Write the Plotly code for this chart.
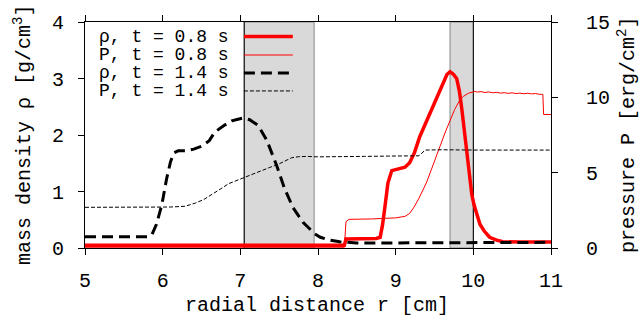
import plotly.graph_objects as go

# ---- data ----
rho08_x = [5.0, 8.34, 8.36, 8.55, 8.75, 8.80, 8.83, 8.86, 8.90, 8.95, 9.03, 9.12, 9.18, 9.24, 9.31, 9.40,
           9.485, 9.55, 9.61, 9.66, 9.70, 9.74, 9.785, 9.82, 9.85, 9.875, 9.90, 9.93, 9.957, 9.98, 10.008,
           10.045, 10.085, 10.14, 10.21, 10.30, 10.38, 10.6, 11.0]
rho08_y = [0.05, 0.05, 0.16, 0.17, 0.17, 0.19, 0.40, 0.71, 1.15, 1.37, 1.40, 1.43, 1.51, 1.68, 1.97, 2.25,
           2.54, 2.74, 2.94, 3.07, 3.12, 3.08, 3.00, 2.78, 2.48, 2.18, 1.85, 1.50, 1.17, 0.95, 0.77,
           0.58, 0.42, 0.30, 0.19, 0.14, 0.11, 0.105, 0.105]

p08_x = [5.0, 8.34, 8.36, 8.40, 8.70, 9.00, 9.12, 9.18, 9.23, 9.30, 9.40, 9.50, 9.57, 9.64, 9.70, 9.76,
         9.83, 9.87, 9.94, 9.98, 10.02, 10.05, 10.10, 10.15, 10.20, 10.25, 10.30, 10.35, 10.40, 10.45,
         10.50, 10.55, 10.60, 10.65, 10.70, 10.75, 10.80, 10.85, 10.895, 10.905, 11.0]
p08_y = [0.05, 0.05, 1.75, 1.90, 1.93, 2.00, 2.10, 2.30, 2.66, 3.30, 4.38, 5.70, 6.74, 7.70, 8.45, 9.20,
         9.85, 10.06, 10.28, 10.36, 10.39, 10.35, 10.38, 10.32, 10.36, 10.30, 10.33, 10.28, 10.31, 10.26,
         10.30, 10.25, 10.28, 10.24, 10.27, 10.23, 10.25, 10.20, 10.20, 8.86, 8.86]

rho14_x = [5.0, 5.80, 5.86, 5.92, 5.99, 6.05, 6.10, 6.14, 6.20, 6.29, 6.40, 6.50, 6.60, 6.67, 6.78, 6.89,
           6.97, 7.04, 7.12, 7.23, 7.34, 7.47, 7.57, 7.68, 7.81, 7.96, 8.03, 8.15, 8.28, 8.5, 9.0, 9.5,
           10.0, 10.5, 11.0]
rho14_y = [0.20, 0.20, 0.23, 0.42, 0.77, 1.22, 1.52, 1.68, 1.72, 1.72, 1.75, 1.80, 1.90, 2.05, 2.16, 2.25,
           2.28, 2.30, 2.27, 2.17, 1.91, 1.45, 1.05, 0.71, 0.45, 0.25, 0.19, 0.14, 0.11, 0.09, 0.09, 0.09,
           0.095, 0.10, 0.10]

p14_x = [5.0, 5.86, 6.10, 6.29, 6.42, 6.53, 6.63, 6.74, 6.85, 6.95, 7.06, 7.17, 7.27, 7.38, 7.49, 7.58,
         7.66, 7.75, 7.85, 8.0, 8.3, 8.6, 8.9, 9.30, 9.38, 9.6, 10.0, 10.5, 11.0]
p14_y = [2.70, 2.70, 2.72, 2.77, 2.98, 3.22, 3.52, 3.90, 4.27, 4.48, 4.70, 4.92, 5.13, 5.35, 5.56, 5.80,
         5.99, 6.06, 6.08, 6.05, 6.05, 6.08, 6.10, 6.12, 6.50, 6.52, 6.50, 6.50, 6.50]

bands = [(7.05, 7.95), (9.70, 10.00)]
shock_lines = [7.05, 10.00]

x_ticks = [5, 6, 7, 8, 9, 10, 11]
rho_ticks = [0, 1, 2, 3, 4]
p_ticks = [0, 5, 10, 15]

legend_labels = ["ρ, t = 0.8 s", "P, t = 0.8 s", "ρ, t = 1.4 s", "P, t = 1.4 s"]

FONT = "Liberation Mono"
FS = 20
FS_LEG = 18

styles = [
    dict(color="#ff0000", width=3.5, dash="solid"),
    dict(color="#ff0000", width=1, dash="solid"),
    dict(color="#000000", width=3, dash="11px,6px"),
    dict(color="#000000", width=1, dash="4px,2px"),
]

fig = go.Figure()
fig.add_trace(go.Scatter(x=rho08_x, y=rho08_y, mode="lines", line=styles[0], yaxis="y"))
fig.add_trace(go.Scatter(x=p08_x, y=p08_y, mode="lines", line=styles[1], yaxis="y2"))
fig.add_trace(go.Scatter(x=rho14_x, y=rho14_y, mode="lines", line=styles[2], yaxis="y"))
fig.add_trace(go.Scatter(x=p14_x, y=p14_y, mode="lines", line=styles[3], yaxis="y2"))

shapes = []
for a, b in bands:
    shapes.append(dict(type="rect", xref="x", yref="paper", x0=a, x1=b, y0=0, y1=1,
                       fillcolor="#d9d9d9", line=dict(color="#888888", width=1), layer="below"))
for v in shock_lines:
    shapes.append(dict(type="line", xref="x", yref="paper", x0=v, x1=v, y0=0, y1=1,
                       line=dict(color="black", width=1), layer="below"))

# legend (text left, sample on the right, as in gnuplot)
leg_y = [0.9356, 0.854, 0.774, 0.695]
annotations = []
for lab, yy, st in zip(legend_labels, leg_y, styles):
    annotations.append(dict(text=lab, xref="paper", yref="paper", x=0.025, y=yy,
                            xanchor="left", yanchor="middle", showarrow=False,
                            font=dict(family=FONT, size=FS_LEG, color="black")))
    shapes.append(dict(type="line", xref="paper", yref="paper", x0=0.341, x1=0.446, y0=yy, y1=yy,
                       line=dict(color=st["color"], width=st["width"], dash=st["dash"])))

annotations.append(dict(text="radial distance r [cm]", xref="paper", yref="paper", x=0.497, y=-0.255,
                        xanchor="center", yanchor="middle", showarrow=False,
                        font=dict(family=FONT, size=FS, color="black")))
annotations.append(dict(text="mass density ρ [g/cm<sup>3</sup>]", xref="paper", yref="paper",
                        x=-0.133, y=0.5, xanchor="center", yanchor="middle", textangle=-90,
                        showarrow=False, font=dict(family=FONT, size=FS, color="black")))
annotations.append(dict(text="pressure P [erg/cm<sup>2</sup>]", xref="paper", yref="paper",
                        x=1.163, y=0.5, xanchor="center", yanchor="middle", textangle=-90,
                        showarrow=False, font=dict(family=FONT, size=FS, color="black")))

axis_common = dict(showgrid=False, zeroline=False, showline=True, linecolor="black", linewidth=1,
                   ticks="outside", ticklen=6, tickcolor="black", tickwidth=1,
                   tickfont=dict(family=FONT, size=FS, color="black"))

fig.update_layout(
    width=642, height=322,
    margin=dict(l=85, r=91, t=15, b=74),
    paper_bgcolor="white", plot_bgcolor="white",
    showlegend=False,
    xaxis=dict(range=[5, 11], tickvals=x_ticks, mirror="allticks", ticklabelstandoff=8, **axis_common),
    yaxis=dict(range=[0, 4], tickvals=rho_ticks, mirror=False, ticklabelstandoff=10, **axis_common),
    yaxis2=dict(range=[0, 15], tickvals=p_ticks, overlaying="y", side="right", anchor="x",
                ticklabelstandoff=24, **axis_common),
    shapes=shapes,
    annotations=annotations,
)

fig.write_html("out.html")
